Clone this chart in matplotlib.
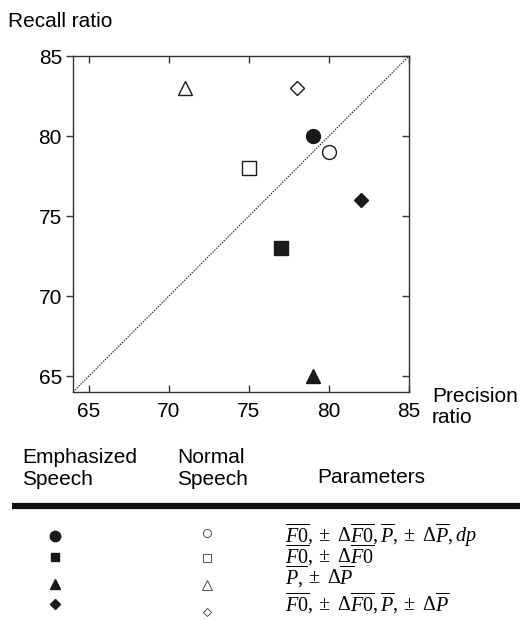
import matplotlib
matplotlib.use("Agg")
import matplotlib.pyplot as plt

plt.rcParams['font.family'] = ['Liberation Sans', 'DejaVu Sans']
plt.rcParams['mathtext.fontset'] = 'custom'
plt.rcParams['mathtext.rm'] = 'Liberation Serif'
plt.rcParams['mathtext.it'] = 'Liberation Serif:italic'
plt.rcParams['mathtext.fallback'] = 'stix'

# ---- data ----
markers = ['o', 's', '^', 'D']
emph_precision = [79, 77, 79, 82]
emph_recall = [80, 73, 65, 76]
normal_precision = [80, 75, 71, 78]
normal_recall = [79, 78, 83, 83]
param_labels = [
    r'$\overline{\mathit{F0}},\pm\ \Delta\overline{\mathit{F0}},\overline{\mathit{P}},\pm\ \Delta\overline{\mathit{P}},\mathit{dp}$',
    r'$\overline{\mathit{F0}},\pm\ \Delta\overline{\mathit{F0}}$',
    r'$\overline{\mathit{P},}\pm\ \Delta\overline{\mathit{P}}$',
    r'$\overline{\mathit{F0}},\pm\ \Delta\overline{\mathit{F0}},\overline{\mathit{P}},\pm\ \Delta\overline{\mathit{P}}$',
]
ticks = [65, 70, 75, 80, 85]
axis_min, axis_max = 64, 85

W, H = 520, 621
fig = plt.figure(figsize=(W / 100, H / 100), dpi=100)

def px(x0, y0, x1, y1):
    return [x0 / W, 1 - y1 / H, (x1 - x0) / W, (y1 - y0) / H]

FS = 15

ax = fig.add_axes(px(73, 56, 409, 392))
ax.set_xlim(axis_min, axis_max)
ax.set_ylim(axis_min, axis_max)

# diagonal reference line
ax.plot([axis_min, axis_max], [axis_min, axis_max], color='#222222',
        lw=0.8, ls=(0, (1.3, 1.1)), zorder=1)

plot_sizes = {'o': 10, 's': 10, '^': 9.5, 'D': 7}
ink = '#1a1a1a'
for m, xe, ye, xn, yn in zip(markers, emph_precision, emph_recall,
                             normal_precision, normal_recall):
    ax.plot(xe, ye, marker=m, ms=plot_sizes[m], color=ink, mec=ink,
            ls='none', zorder=3)
    ax.plot(xn, yn, marker=m, ms=plot_sizes[m], mfc='white', mec=ink,
            mew=1.0, ls='none', zorder=3)

ax.set_xticks(ticks)
ax.set_yticks(ticks)
for s in ax.spines.values():
    s.set_color('#333333')
    s.set_linewidth(1.0)
ax.tick_params(axis='x', which='both', direction='in', top=True, bottom=True,
               length=5, width=1, color='#333333', labelsize=FS, pad=7)
ax.tick_params(axis='y', which='both', direction='out', left=True, right=False,
               length=5, width=1, color='#333333', labelsize=FS, pad=3)
# inside ticks on the right side
ax2 = ax.twinx()
ax2.set_ylim(axis_min, axis_max)
ax2.set_yticks(ticks)
ax2.tick_params(axis='y', direction='in', length=5, width=1, color='#333333',
                labelright=False)
for s in ax2.spines.values():
    s.set_visible(False)

# axis titles
fig.text(8 / W, 1 - 27 / H, 'Recall ratio', fontsize=FS, ha='left',
         va='baseline', color='black')
fig.text(432 / W, 1 - 402 / H, 'Precision', fontsize=FS, ha='left',
         va='baseline', color='black')
fig.text(432 / W, 1 - 423 / H, 'ratio', fontsize=FS, ha='left',
         va='baseline', color='black')

# ---- legend table ----
lax = fig.add_axes([0, 0, 1, 1])
lax.set_xlim(0, W)
lax.set_ylim(H, 0)
lax.axis('off')

lax.text(22, 463, 'Emphasized', fontsize=FS, ha='left', va='baseline')
lax.text(22, 485, 'Speech', fontsize=FS, ha='left', va='baseline')
lax.text(177, 463, 'Normal', fontsize=FS, ha='left', va='baseline')
lax.text(177, 485, 'Speech', fontsize=FS, ha='left', va='baseline')
lax.text(317, 483, 'Parameters', fontsize=FS, ha='left', va='baseline')
lax.plot([12, W], [506, 506], color='#111111', lw=4.5, solid_capstyle='butt')

emph_y = [536, 557, 584, 604]
norm_y = [533, 558, 585, 612]
text_y = [542, 563, 584, 611]
emph_sizes = {'o': 7.5, 's': 5.5, '^': 7, 'D': 5.6}
norm_sizes = {'o': 5.8, 's': 5.8, '^': 7, 'D': 4.4}
for m, ey, ny, ty, lab in zip(markers, emph_y, norm_y, text_y, param_labels):
    lax.plot(55, ey, marker=m, ms=emph_sizes[m], color=ink, ls='none')
    lax.plot(207, ny, marker=m, ms=norm_sizes[m], mfc='white', mec='#333333',
             mew=0.6, ls='none')
    lax.text(285, ty, lab, fontsize=14.5, ha='left', va='baseline')

fig.savefig('out.png', dpi=100)
